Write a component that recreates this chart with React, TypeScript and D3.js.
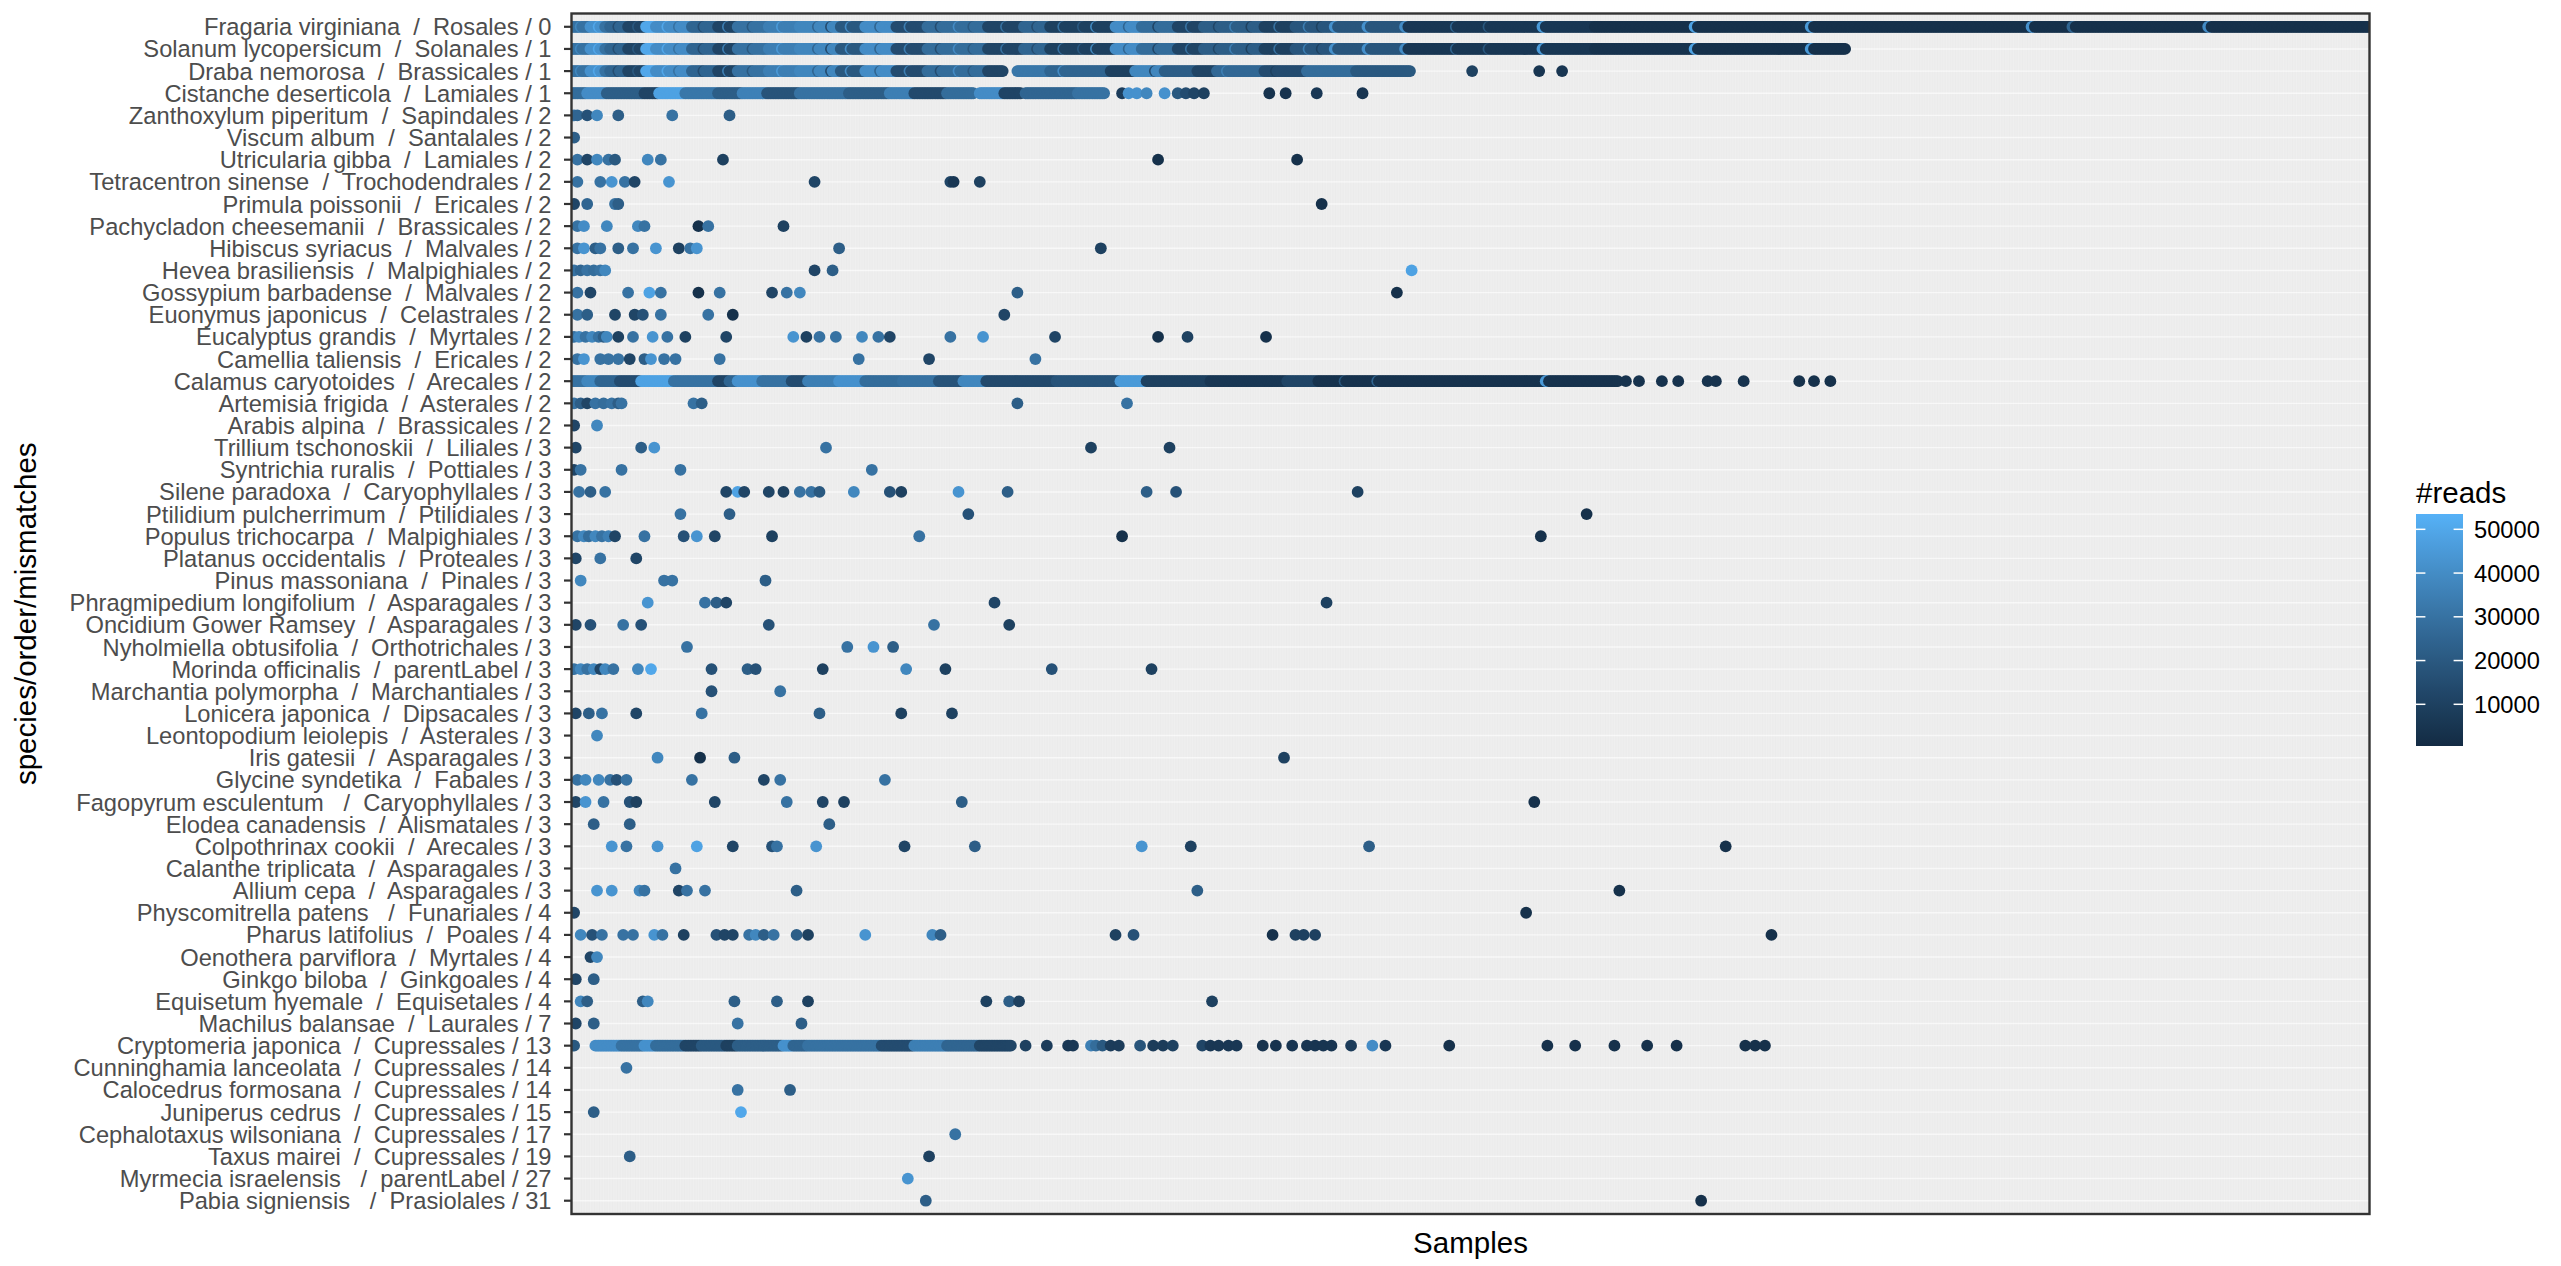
import React, { useMemo } from 'react';
import * as d3 from 'd3';

// ---------------- DATA ----------------
const species = [
  'Fragaria virginiana', 'Solanum lycopersicum', 'Draba nemorosa', 'Cistanche deserticola',
  'Zanthoxylum piperitum', 'Viscum album', 'Utricularia gibba', 'Tetracentron sinense',
  'Primula poissonii', 'Pachycladon cheesemanii', 'Hibiscus syriacus', 'Hevea brasiliensis',
  'Gossypium barbadense', 'Euonymus japonicus', 'Eucalyptus grandis', 'Camellia taliensis',
  'Calamus caryotoides', 'Artemisia frigida', 'Arabis alpina', 'Trillium tschonoskii',
  'Syntrichia ruralis', 'Silene paradoxa', 'Ptilidium pulcherrimum', 'Populus trichocarpa',
  'Platanus occidentalis', 'Pinus massoniana', 'Phragmipedium longifolium', 'Oncidium Gower Ramsey',
  'Nyholmiella obtusifolia', 'Morinda officinalis', 'Marchantia polymorpha', 'Lonicera japonica',
  'Leontopodium leiolepis', 'Iris gatesii', 'Glycine syndetika', 'Fagopyrum esculentum ',
  'Elodea canadensis', 'Colpothrinax cookii', 'Calanthe triplicata', 'Allium cepa',
  'Physcomitrella patens ', 'Pharus latifolius', 'Oenothera parviflora', 'Ginkgo biloba',
  'Equisetum hyemale', 'Machilus balansae', 'Cryptomeria japonica', 'Cunninghamia lanceolata',
  'Calocedrus formosana', 'Juniperus cedrus', 'Cephalotaxus wilsoniana', 'Taxus mairei',
  'Myrmecia israelensis ', 'Pabia signiensis ',
];

const orders = [
  'Rosales', 'Solanales', 'Brassicales', 'Lamiales', 'Sapindales', 'Santalales', 'Lamiales',
  'Trochodendrales', 'Ericales', 'Brassicales', 'Malvales', 'Malpighiales', 'Malvales',
  'Celastrales', 'Myrtales', 'Ericales', 'Arecales', 'Asterales', 'Brassicales', 'Liliales',
  'Pottiales', 'Caryophyllales', 'Ptilidiales', 'Malpighiales', 'Proteales', 'Pinales',
  'Asparagales', 'Asparagales', 'Orthotrichales', 'parentLabel', 'Marchantiales', 'Dipsacales',
  'Asterales', 'Asparagales', 'Fabales', 'Caryophyllales', 'Alismatales', 'Arecales',
  'Asparagales', 'Asparagales', 'Funariales', 'Poales', 'Myrtales', 'Ginkgoales', 'Equisetales',
  'Laurales', 'Cupressales', 'Cupressales', 'Cupressales', 'Cupressales', 'Cupressales',
  'Cupressales', 'parentLabel', 'Prasiolales',
];

const mismatches = [
  0, 1, 1, 1,
  2, 2, 2, 2, 2, 2, 2, 2, 2, 2, 2, 2, 2, 2, 2,
  3, 3, 3, 3, 3, 3, 3, 3, 3, 3, 3, 3, 3, 3, 3, 3, 3, 3, 3, 3, 3,
  4, 4, 4, 4, 4,
  7, 13, 14, 14, 15, 17, 19, 27, 31,
];

const sampleCount = 1099;
const readsLimits = [470, 53500];
const legendTicks = [10000, 20000, 30000, 40000, 50000];

type Run = [number, number, number]; // [first sample, last sample, reads]
type Dot = [number, number]; // [sample, reads]

// samples shared by the first rows
const headRuns: Run[] = [
  [0, 11, 30000], [11, 20, 42000], [20, 23, 30000], [23, 34, 25000], [34, 45, 12000],
  [45, 51, 50000], [51, 73, 40000], [73, 89, 25000], [89, 101, 12000], [101, 120, 30000],
  [120, 139, 35000], [139, 164, 38000], [164, 179, 20000], [179, 198, 40000], [198, 217, 15000],
  [217, 254, 28000], [254, 276, 12000], [276, 292, 25000], [292, 332, 10000], [332, 348, 40000],
  [348, 370, 28000], [370, 386, 12000], [386, 423, 22000], [423, 442, 10000], [442, 509, 19000],
  [509, 625, 6000],
];
const headDots: Dot[] = [
  [5, 38000], [16, 50000], [28, 15000], [40, 20000], [58, 50000], [65, 30000], [80, 15000],
  [95, 35000], [110, 20000], [128, 45000], [150, 25000], [158, 15000], [170, 40000], [188, 25000],
  [206, 35000], [225, 15000], [236, 40000], [245, 20000], [265, 30000], [284, 15000], [300, 30000],
  [312, 20000], [320, 38000], [340, 25000], [358, 12000], [378, 30000], [395, 12000], [405, 35000],
  [415, 10000], [432, 30000], [450, 35000], [458, 10000], [466, 42000], [467, 42000], [486, 42000],
  [487, 42000], [509, 40000], [510, 40000], [540, 25000], [560, 20000], [593, 45000], [594, 45000],
];

// contiguous runs of samples in the densely covered rows (row index -> runs)
const fragariaRuns: Run[] = [...headRuns, [625, 1098, 3000]];
const solanumRuns: Run[] = [...headRuns, [625, 686, 4000], [686, 778, 3000]];
const drabaRuns: Run[] = [
  ...headRuns.slice(0, 16), [254, 263, 12000], [272, 292, 32000], [292, 329, 25000],
  [329, 344, 10000], [344, 362, 38000], [362, 382, 22000], [382, 394, 12000], [394, 423, 26000],
  [423, 449, 15000], [449, 479, 28000], [479, 512, 20000],
];
const cistancheRuns: Run[] = [
  [0, 9, 28000], [9, 21, 40000], [21, 44, 22000], [44, 53, 12000], [53, 69, 48000], [69, 89, 32000],
  [89, 104, 22000], [104, 119, 36000], [119, 139, 18000], [139, 169, 30000], [169, 194, 22000],
  [194, 209, 35000], [209, 229, 14000], [229, 245, 28000], [249, 264, 40000], [264, 274, 12000],
  [277, 309, 25000], [309, 325, 30000],
];
const calamusRuns: Run[] = [
  [0, 9, 30000], [9, 17, 38000], [17, 29, 25000], [29, 42, 15000], [42, 62, 48000], [62, 89, 30000],
  [89, 96, 12000], [96, 101, 25000], [101, 116, 42000], [116, 134, 30000], [134, 144, 15000],
  [144, 163, 35000], [163, 179, 42000], [179, 202, 28000], [202, 224, 30000], [224, 239, 18000],
  [239, 253, 38000], [253, 296, 14000], [296, 335, 18000], [335, 351, 45000], [351, 390, 10000],
  [390, 437, 6000], [437, 456, 12000], [456, 639, 4000],
];
const cryptomeriaRuns: Run[] = [
  [14, 30, 40000], [30, 44, 30000], [44, 51, 42000], [51, 69, 28000], [69, 79, 12000],
  [79, 94, 20000], [94, 101, 10000], [101, 129, 22000], [129, 135, 42000], [135, 144, 25000],
  [144, 189, 30000], [189, 209, 15000], [209, 229, 35000], [229, 249, 25000], [249, 268, 12000],
];

const dotsByRow: Dot[][] = [
  // Fragaria virginiana
  [...headDots, [686, 48000], [687, 48000], [757, 45000], [758, 45000], [892, 42000], [893, 42000],
    [917, 25000], [918, 25000], [1000, 40000], [1001, 40000]],
  // Solanum lycopersicum
  [...headDots, [686, 48000], [687, 48000], [757, 45000], [758, 45000]],
  // Draba nemorosa
  [...headDots.filter((d) => d[0] < 263), [300, 40000], [356, 15000], [400, 35000], [430, 10000],
    [550, 10000], [591, 5000], [605, 5000]],
  // Cistanche deserticola
  [[336, 8000], [340, 42000], [345, 42000], [351, 38000], [362, 42000], [370, 20000], [375, 15000],
    [380, 12000], [386, 10000], [426, 4000], [436, 4000], [455, 6000], [483, 5000]],
  // Zanthoxylum piperitum
  [[1, 30000], [3, 25000], [9, 17000], [15, 38000], [28, 22000], [61, 30000], [96, 22000]],
  // Viscum album
  [[1, 22000]],
  // Utricularia gibba
  [[3, 30000], [9, 12000], [15, 38000], [22, 30000], [26, 20000], [46, 38000], [54, 30000],
    [92, 10000], [358, 3000], [443, 3000]],
  // Tetracentron sinense
  [[3, 30000], [17, 30000], [24, 43000], [32, 30000], [38, 12000], [59, 43000], [148, 12000],
    [231, 12000], [233, 6000], [249, 10000]],
  // Primula poissonii
  [[1, 12000], [9, 25000], [26, 30000], [28, 22000], [458, 3000]],
  // Pachycladon cheesemanii
  [[3, 30000], [7, 40000], [21, 38000], [40, 38000], [44, 30000], [77, 3000], [83, 30000], [129, 10000]],
  // Hibiscus syriacus
  [[3, 30000], [7, 43000], [14, 22000], [17, 30000], [28, 22000], [37, 30000], [51, 43000],
    [65, 10000], [72, 30000], [76, 43000], [163, 22000], [323, 10000]],
  // Hevea brasiliensis
  [[1, 30000], [5, 25000], [9, 30000], [13, 28000], [17, 30000], [20, 38000], [148, 12000],
    [159, 22000], [513, 48000]],
  // Gossypium barbadense
  [[3, 30000], [11, 12000], [34, 30000], [47, 48000], [54, 30000], [77, 3000], [90, 30000],
    [122, 12000], [131, 30000], [139, 38000], [272, 22000], [504, 3000]],
  // Euonymus japonicus
  [[3, 30000], [9, 22000], [26, 12000], [38, 12000], [43, 17000], [54, 30000], [83, 30000],
    [98, 3000], [264, 12000]],
  // Eucalyptus grandis
  [[1, 30000], [4, 38000], [8, 30000], [12, 38000], [16, 30000], [19, 22000], [21, 38000],
    [28, 10000], [37, 30000], [49, 43000], [58, 30000], [69, 10000], [94, 12000], [135, 43000],
    [143, 10000], [151, 30000], [161, 30000], [177, 38000], [187, 30000], [194, 12000], [231, 30000],
    [251, 43000], [295, 12000], [358, 3000], [376, 10000], [424, 3000]],
  // Camellia taliensis
  [[3, 30000], [7, 43000], [17, 30000], [22, 30000], [28, 30000], [35, 12000], [44, 22000],
    [48, 43000], [56, 30000], [63, 30000], [90, 30000], [175, 30000], [218, 12000], [283, 30000]],
  // Calamus caryotoides
  [[472, 20000], [492, 25000], [595, 45000], [596, 45000], [644, 4000], [652, 4000], [666, 4000],
    [676, 4000], [694, 4000], [699, 4000], [716, 4000], [750, 3000], [759, 3000], [769, 3000]],
  // Artemisia frigida
  [[1, 30000], [5, 22000], [9, 12000], [14, 30000], [19, 28000], [24, 30000], [28, 22000],
    [30, 30000], [74, 30000], [79, 22000], [272, 22000], [339, 30000]],
  // Arabis alpina
  [[1, 12000], [15, 38000]],
  // Trillium tschonoskii
  [[2, 12000], [42, 22000], [50, 43000], [155, 30000], [317, 10000], [365, 10000]],
  // Syntrichia ruralis
  [[1, 12000], [5, 30000], [30, 30000], [66, 30000], [183, 30000]],
  // Silene paradoxa
  [[4, 30000], [11, 22000], [20, 30000], [94, 12000], [101, 48000], [105, 12000], [120, 12000],
    [129, 10000], [139, 30000], [146, 30000], [151, 20000], [172, 38000], [194, 17000], [201, 10000],
    [236, 43000], [266, 22000], [351, 22000], [369, 17000], [480, 10000]],
  // Ptilidium pulcherrimum
  [[66, 30000], [96, 22000], [242, 17000], [620, 3000]],
  // Populus trichocarpa
  [[3, 30000], [7, 38000], [10, 28000], [14, 38000], [18, 30000], [22, 35000], [26, 12000],
    [44, 30000], [68, 17000], [76, 43000], [87, 12000], [122, 10000], [212, 30000], [336, 3000],
    [592, 3000]],
  // Platanus occidentalis
  [[2, 12000], [17, 30000], [39, 12000]],
  // Pinus massoniana
  [[5, 38000], [56, 30000], [61, 30000], [118, 22000]],
  // Phragmipedium longifolium
  [[46, 43000], [81, 30000], [88, 22000], [94, 12000], [258, 12000], [461, 10000]],
  // Oncidium Gower Ramsey
  [[2, 12000], [11, 17000], [31, 30000], [42, 17000], [120, 17000], [221, 30000], [267, 10000]],
  // Nyholmiella obtusifolia
  [[70, 30000], [168, 30000], [184, 43000], [196, 22000]],
  // Morinda officinalis
  [[1, 30000], [5, 38000], [9, 30000], [13, 38000], [17, 12000], [20, 38000], [25, 30000],
    [40, 38000], [48, 50000], [85, 17000], [107, 22000], [112, 17000], [153, 10000], [204, 38000],
    [228, 10000], [293, 17000], [354, 10000]],
  // Marchantia polymorpha
  [[85, 17000], [127, 30000]],
  // Lonicera japonica
  [[2, 12000], [10, 22000], [18, 30000], [39, 12000], [79, 30000], [151, 22000], [201, 10000],
    [232, 10000]],
  // Leontopodium leiolepis
  [[15, 38000]],
  // Iris gatesii
  [[52, 38000], [78, 3000], [99, 22000], [435, 10000]],
  // Glycine syndetika
  [[3, 30000], [8, 38000], [16, 38000], [23, 30000], [27, 17000], [33, 30000], [73, 30000],
    [117, 12000], [127, 30000], [191, 30000]],
  // Fagopyrum esculentum
  [[2, 12000], [8, 43000], [19, 30000], [35, 17000], [39, 10000], [87, 12000], [131, 30000],
    [153, 12000], [166, 10000], [238, 22000], [588, 3000]],
  // Elodea canadensis
  [[13, 22000], [35, 22000], [157, 22000]],
  // Colpothrinax cookii
  [[24, 43000], [33, 30000], [52, 43000], [76, 48000], [98, 12000], [122, 17000], [125, 30000],
    [149, 43000], [203, 12000], [246, 22000], [348, 43000], [378, 10000], [487, 22000], [705, 3000]],
  // Calanthe triplicata
  [[63, 30000]],
  // Allium cepa
  [[15, 43000], [24, 43000], [41, 38000], [44, 30000], [65, 12000], [70, 30000], [81, 30000],
    [137, 22000], [382, 22000], [640, 3000]],
  // Physcomitrella patens
  [[1, 12000], [583, 3000]],
  // Pharus latifolius
  [[5, 38000], [12, 17000], [18, 30000], [31, 30000], [37, 30000], [50, 43000], [55, 30000],
    [68, 10000], [88, 17000], [93, 12000], [98, 12000], [108, 30000], [112, 38000], [117, 22000],
    [123, 30000], [137, 22000], [144, 10000], [179, 43000], [220, 38000], [225, 22000], [332, 10000],
    [343, 17000], [428, 3000], [442, 10000], [447, 10000], [454, 10000], [733, 3000]],
  // Oenothera parviflora
  [[11, 12000], [15, 38000]],
  // Ginkgo biloba
  [[2, 12000], [13, 22000]],
  // Equisetum hyemale
  [[5, 38000], [9, 22000], [43, 22000], [46, 38000], [99, 22000], [125, 22000], [144, 10000],
    [253, 10000], [267, 22000], [273, 10000], [391, 10000]],
  // Machilus balansae
  [[2, 12000], [13, 22000], [101, 30000], [140, 22000]],
  // Cryptomeria japonica
  [[1, 20000], [277, 10000], [290, 8000], [303, 6000], [306, 6000], [317, 35000], [320, 28000],
    [324, 20000], [329, 8000], [334, 8000], [347, 18000], [355, 8000], [361, 8000], [367, 10000],
    [385, 12000], [390, 6000], [395, 6000], [401, 6000], [406, 6000], [422, 4000], [430, 4000],
    [440, 5000], [449, 5000], [454, 5000], [459, 5000], [464, 5000], [476, 8000], [489, 40000],
    [497, 6000], [536, 3000], [596, 3000], [613, 3000], [637, 3000], [657, 3000], [675, 3000],
    [717, 3000], [723, 3000], [729, 3000]],
  // Cunninghamia lanceolata
  [[33, 30000]],
  // Calocedrus formosana
  [[101, 30000], [133, 22000]],
  // Juniperus cedrus
  [[13, 22000], [103, 50000]],
  // Cephalotaxus wilsoniana
  [[234, 30000]],
  // Taxus mairei
  [[35, 22000], [218, 10000]],
  // Myrmecia israelensis
  [[205, 43000]],
  // Pabia signiensis
  [[216, 22000], [690, 3000]],
];

// which species rows carry the dense runs
const runsBySpecies: Record<string, Run[]> = {
  'Fragaria virginiana': fragariaRuns,
  'Solanum lycopersicum': solanumRuns,
  'Draba nemorosa': drabaRuns,
  'Cistanche deserticola': cistancheRuns,
  'Calamus caryotoides': calamusRuns,
  'Cryptomeria japonica': cryptomeriaRuns,
};

// ---------------- CHART ----------------
const W = 2561;
const H = 1266;
const panel = { left: 571.5, right: 2369.5, top: 13.5, bottom: 1214 };
const FONT = '"Liberation Sans", Arial, Helvetica, sans-serif';

const labels = species.map((s, i) => `${s}  /  ${orders[i]} / ${mismatches[i]}`);

export default function App() {
  const x = useMemo(
    () => d3.scalePoint<number>().domain(d3.range(sampleCount)).range([panel.left, panel.right]).padding(0.6),
    []
  );
  const y = useMemo(
    () => d3.scalePoint<string>().domain(labels).range([panel.top, panel.bottom]).padding(0.6),
    []
  );
  const color = useMemo(
    () =>
      d3
        .scaleLinear<string>()
        .domain(readsLimits)
        .range(['#132B43', '#56B1F7'])
        .interpolate(d3.interpolateLab)
        .clamp(true),
    []
  );

  const rows = useMemo(
    () =>
      labels.map((lab, r) => {
        const m = new Map<number, number>();
        for (const [s, e, v] of runsBySpecies[species[r]] || []) for (let i = s; i <= e; i++) m.set(i, v);
        for (const [i, v] of dotsByRow[r] || []) m.set(i, v);
        const pts = Array.from(m.entries()).sort((a, b) => a[0] - b[0]);
        return { lab, pts };
      }),
    []
  );

  const legend = { x: 2416, w: 47, top: 514, bottom: 746 };
  const ly = d3.scaleLinear().domain(readsLimits).range([legend.bottom, legend.top]);
  const stops = d3.range(0, 1.0001, 0.05);

  const midY = (panel.top + panel.bottom) / 2;
  const midX = (panel.left + panel.right) / 2;

  return (
    <div style={{ position: 'absolute', left: 0, top: 0 }}>
      <svg width={W} height={H} style={{ display: 'block', background: '#ffffff' }} fontFamily={FONT}>
        <defs>
          <clipPath id="panelClip">
            <rect x={panel.left} y={panel.top} width={panel.right - panel.left} height={panel.bottom - panel.top} />
          </clipPath>
          <linearGradient id="readsGrad" x1="0" y1="1" x2="0" y2="0">
            {stops.map((t) => (
              <stop
                key={t}
                offset={`${t * 100}%`}
                stopColor={color(readsLimits[0] + t * (readsLimits[1] - readsLimits[0]))}
              />
            ))}
          </linearGradient>
        </defs>

        {/* panel background */}
        <rect
          x={panel.left}
          y={panel.top}
          width={panel.right - panel.left}
          height={panel.bottom - panel.top}
          fill="#EBEBEB"
        />
        <g clipPath="url(#panelClip)">
          {x.domain().map((i) => (
            <line
              key={`v${i}`}
              x1={x(i)}
              x2={x(i)}
              y1={panel.top}
              y2={panel.bottom}
              stroke="#ffffff"
              strokeWidth={0.6}
              strokeOpacity={0.35}
            />
          ))}
          {labels.map((l) => (
            <line
              key={`h${l}`}
              x1={panel.left}
              x2={panel.right}
              y1={y(l)}
              y2={y(l)}
              stroke="#ffffff"
              strokeWidth={1.4}
              strokeOpacity={0.6}
            />
          ))}
          {rows.map((row) => (
            <g key={row.lab}>
              {row.pts.map(([s, v]) => (
                <circle key={s} cx={x(s)} cy={y(row.lab)} r={5.9} fill={color(v)} />
              ))}
            </g>
          ))}
        </g>
        <rect
          x={panel.left}
          y={panel.top}
          width={panel.right - panel.left}
          height={panel.bottom - panel.top}
          fill="none"
          stroke="#333333"
          strokeWidth={2.4}
        />

        {/* y axis */}
        {labels.map((l) => (
          <g key={`t${l}`}>
            <line x1={panel.left - 7.5} x2={panel.left} y1={y(l)} y2={y(l)} stroke="#333333" strokeWidth={2.2} />
            <text
              x={panel.left - 20}
              y={y(l)}
              dy="0.36em"
              textAnchor="end"
              fontSize={23.7}
              fill="#4D4D4D"
              style={{ whiteSpace: 'pre' }}
            >
              {l}
            </text>
          </g>
        ))}

        {/* axis titles */}
        <text
          transform={`translate(36,${midY}) rotate(-90)`}
          textAnchor="middle"
          fontSize={29.5}
          fill="#000000"
        >
          species/order/mismatches
        </text>
        <text x={midX} y={1253} textAnchor="middle" fontSize={29.5} fill="#000000">
          Samples
        </text>

        {/* legend */}
        <text x={legend.x} y={503} fontSize={29.5} fill="#000000">
          #reads
        </text>
        <rect x={legend.x} y={legend.top} width={legend.w} height={legend.bottom - legend.top} fill="url(#readsGrad)" />
        {legendTicks.map((t) => (
          <g key={`lt${t}`}>
            <line x1={legend.x} x2={legend.x + 9.4} y1={ly(t)} y2={ly(t)} stroke="#ffffff" strokeWidth={1.5} />
            <line
              x1={legend.x + legend.w - 9.4}
              x2={legend.x + legend.w}
              y1={ly(t)}
              y2={ly(t)}
              stroke="#ffffff"
              strokeWidth={1.5}
            />
            <text x={legend.x + legend.w + 11} y={ly(t)} dy="0.36em" fontSize={23.7} fill="#000000">
              {t}
            </text>
          </g>
        ))}
      </svg>
    </div>
  );
}
